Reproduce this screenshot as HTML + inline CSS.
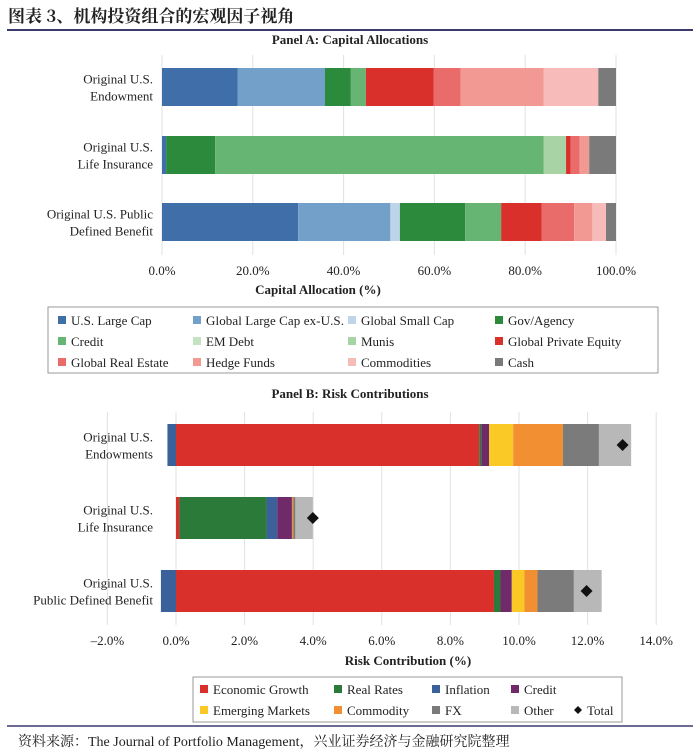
<!DOCTYPE html>
<html><head><meta charset="utf-8"><style>
body{margin:0;background:#fff;width:700px;height:755px;overflow:hidden}
svg{display:block}
text{font-family:"Liberation Serif","Noto Serif CJK SC",serif;fill:#222}
</style></head><body>
<svg id="s" width="700" height="755">
<text x="8" y="22" style="font-family:'Noto Serif CJK SC',serif;font-weight:bold;font-size:17px" fill="#111">图表 3、机构投资组合的宏观因子视角</text>
<line x1="7" y1="30" x2="693" y2="30" stroke="#3b3b6e" stroke-width="2"/>
<text x="350" y="44" text-anchor="middle" font-weight="bold" font-size="13">Panel A: Capital Allocations</text>
<text x="350" y="398" text-anchor="middle" font-weight="bold" font-size="13">Panel B: Risk Contributions</text>
<text x="318" y="294" text-anchor="middle" font-weight="bold" font-size="13">Capital Allocation (%)</text>
<text x="408" y="665" text-anchor="middle" font-weight="bold" font-size="13">Risk Contribution (%)</text>
<line x1="7" y1="726" x2="693" y2="726" stroke="#3b3b6e" stroke-width="1.5"/>
<text x="18" y="746" font-size="14">资料来源：The Journal of Portfolio Management，兴业证券经济与金融研究院整理</text>
<g id="ga"></g><g id="gb"></g>
</svg>
<script>
// Panel A data
const aCats = ["Original U.S.|Endowment","Original U.S.|Life Insurance","Original U.S. Public|Defined Benefit"];
const aSeries = ["U.S. Large Cap","Global Large Cap ex-U.S.","Global Small Cap","Gov/Agency","Credit","EM Debt","Munis","Global Private Equity","Global Real Estate","Hedge Funds","Commodities","Cash"];
const aColors = ["#3f6ea8","#73a0c9","#bed4e8","#2c8a3c","#66b572","#c5e3c2","#a8d3a5","#da302c","#e96b6a","#f29993","#f7bbb9","#7a7a7a"];
const aEndow = [16.7,19.2,0,5.7,3.3,0,0,14.9,6.0,18.3,12.0,3.9];
const aLife = [0.9,0,0,10.8,72.4,0,4.9,1.0,2.0,2.1,0,5.9];
const aDB = [30.0,20.3,2.1,14.4,7.9,0,0,8.9,7.2,4.0,3.0,2.2];
const aTicks = [0,20,40,60,80,100];
// Panel B data
const bCats = ["Original U.S.|Endowments","Original U.S.|Life Insurance","Original U.S.|Public Defined Benefit"];
const bSeries = ["Economic Growth","Real Rates","Inflation","Credit","Emerging Markets","Commodity","FX","Other"];
const bColors = ["#da302c","#2c7a3a","#3a619a","#702a6a","#fbc926","#f18f32","#7b7b7b","#b8b8b8"];
const bEndow = [8.84,0.06,-0.25,0.23,0.70,1.45,1.05,0.94];
const bLife = [0.10,2.54,0.31,0.43,0,0.04,0.06,0.51];
const bDB = [9.27,0.19,-0.44,0.33,0.37,0.38,1.06,0.81];
const bTicks = [-2,0,2,4,6,8,10,12,14];

const NS="http://www.w3.org/2000/svg";
function mk(p,t,a){const e=document.createElementNS(NS,t);for(const k in a)e.setAttribute(k,a[k]);p.appendChild(e);return e;}
function label(g,cat,xr,yc){const L=cat.split("|");L.forEach((s,i)=>{const t=mk(g,"text",{x:xr,y:yc+(i-(L.length-1)/2)*17+5,"text-anchor":"end","font-size":"13"});t.textContent=s;

});}

// Panel A
const ga=document.getElementById("ga");
const ax=v=>162+v*4.54;
const aRows=[aEndow,aLife,aDB], aY=[87,155,222], aH=38;
aTicks.forEach(t=>{const l=mk(ga,"line",{x1:ax(t),x2:ax(t),y1:55,y2:255,stroke:"#e2e2e2"});


const tx=mk(ga,"text",{x:ax(t),y:275,"text-anchor":"middle","font-size":"13"});tx.textContent=t.toFixed(1)+"%";

});
aRows.forEach((row,i)=>{let c=0;row.forEach((v,j)=>{if(v<=0)return;const r=mk(ga,"rect",{x:ax(c),y:aY[i]-aH/2,width:v*4.54,height:aH,fill:aColors[j]});

c+=v;});label(ga,aCats[i],153,aY[i]);});
// legend A
const lgA=mk(ga,"rect",{x:48,y:307,width:610,height:66,fill:"#fff",stroke:"#999"});


const lax=[58,193,348,495];
aSeries.forEach((s,i)=>{const cx=lax[i%4],cy=320+Math.floor(i/4)*21;
const r=mk(ga,"rect",{x:cx,y:cy-4,width:8,height:8,fill:aColors[i]});


const t=mk(ga,"text",{x:cx+13,y:cy+5,"font-size":"13","textLength":(i==1?138:null)});t.textContent=s;
if(i!=1)t.removeAttribute("textLength");

});

// Panel B
const gb=document.getElementById("gb");
const bx=v=>176+v*34.3;
const bRows=[bEndow,bLife,bDB], bY=[445,518,591], bH=42;
bTicks.forEach(t=>{const l=mk(gb,"line",{x1:bx(t),x2:bx(t),y1:412,y2:625,stroke:"#e2e2e2"});


const tx=mk(gb,"text",{x:bx(t),y:645,"text-anchor":"middle","font-size":"13"});tx.textContent=(t<0?"\u2013"+(-t).toFixed(1):t.toFixed(1))+"%";

});
bRows.forEach((row,i)=>{let p=0,n=0,tot=0;row.forEach((v,j)=>{tot+=v;if(v===0)return;let x0,w=Math.abs(v)*34.3;
if(v>0){x0=bx(p);p+=v;}else{n+=v;x0=bx(n);}
const r=mk(gb,"rect",{x:x0,y:bY[i]-bH/2,width:w,height:bH,fill:bColors[j]});

});
const d=mk(gb,"path",{d:`M${bx(tot)} ${bY[i]-6}l6 6l-6 6l-6 -6z`,fill:"#111"});


label(gb,bCats[i],153,bY[i]);});
const lgB=mk(gb,"rect",{x:193,y:677,width:429,height:45,fill:"#fff",stroke:"#999"});


const lbx=[200,334,432,511];
bSeries.concat(["Total"]).forEach((s,i)=>{const cx=i===8?574:lbx[i%4],cy=i===8?710:689+Math.floor(i/4)*21;
if(i<8){const r=mk(gb,"rect",{x:cx,y:cy-4,width:8,height:8,fill:bColors[i]});

}
else{const r=mk(gb,"path",{d:`M${cx+4} ${cy-4}l4 4l-4 4l-4 -4z`,fill:"#111"});

}
const t=mk(gb,"text",{x:cx+13,y:cy+5,"font-size":"13"});t.textContent=s;

});
</script>
</body></html>
